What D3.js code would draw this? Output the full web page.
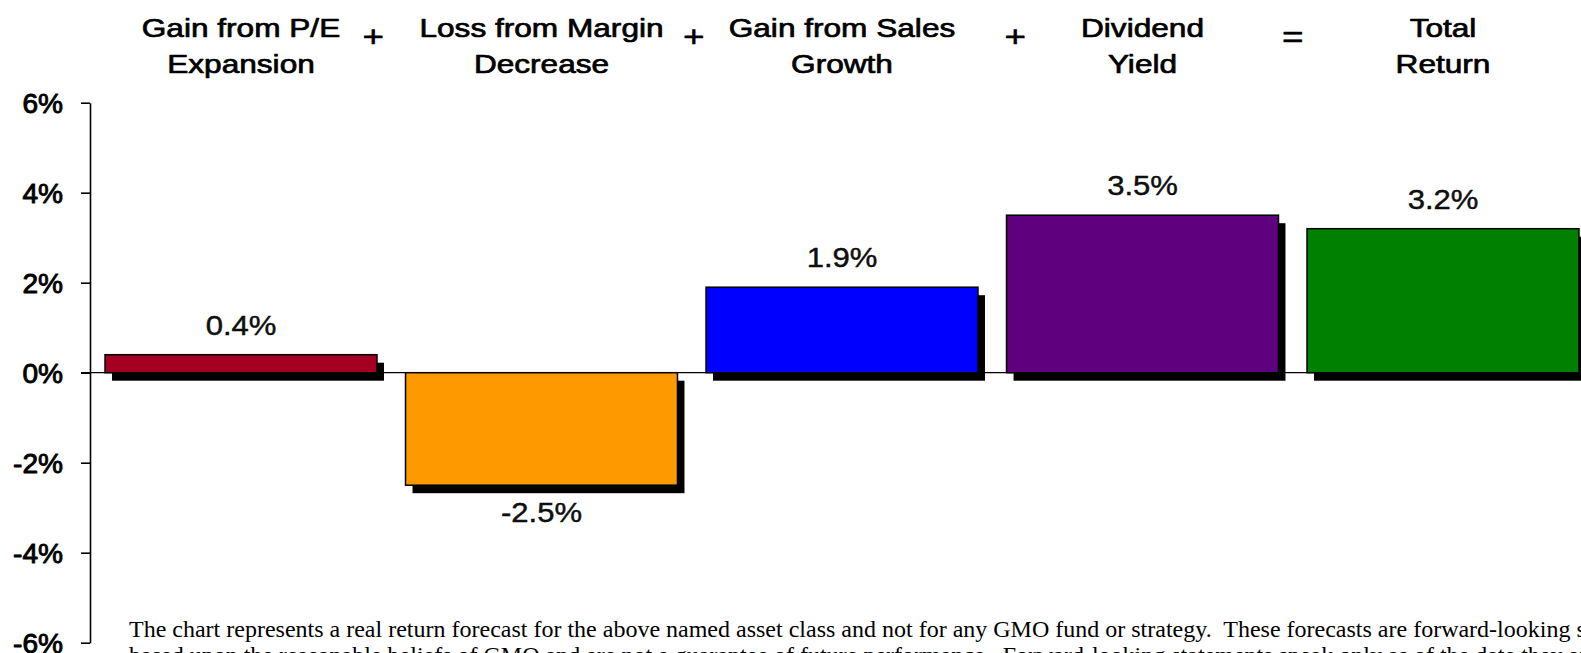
<!DOCTYPE html>
<html>
<head>
<meta charset="utf-8">
<script src="https://cdn.jsdelivr.net/npm/d3@7"></script>
<style>
  html, body { margin: 0; padding: 0; background: #fff; overflow: hidden; }
  svg { display: block; }
  .footnote { white-space: pre; }
</style>
</head>
<body>
<svg id="chart" width="1581" height="653"></svg>
<script>
// Return decomposition: components and the resulting total
const categories = ["pe", "margin", "sales", "dividend", "total"];
const headerLine1 = ["Gain from P/E", "Loss from Margin", "Gain from Sales", "Dividend", "Total"];
const headerLine2 = ["Expansion", "Decrease", "Growth", "Yield", "Return"];
const values = [0.4, -2.5, 1.9, 3.5, 3.2];
const valueLabels = ["0.4%", "-2.5%", "1.9%", "3.5%", "3.2%"];
const operators = ["+", "+", "+", "="];
const tickValues = [6, 4, 2, 0, -2, -4, -6];
const tickLabels = ["6%", "4%", "2%", "0%", "-2%", "-4%", "-6%"];
const barColors = ["#A50021", "#FF9900", "#0000FF", "#5F007F", "#008000"];
const footnoteLines = [
  "The chart represents a real return forecast for the above named asset class and not for any GMO fund or strategy.  These forecasts are forward-looking statements",
  "based upon the reasonable beliefs of GMO and are not a guarantee of future performance.  Forward-looking statements speak only as of the date they are made."
];

// Layout
const axisX = 90;
const shadowDx = 7, shadowDy = 8;
const opNudge = [-18, 2, 23, 0];
const sans = "'Liberation Sans', Arial, Helvetica, sans-serif";
const serif = "'Liberation Serif', 'Times New Roman', serif";

const svg = d3.select("#chart");

const x = d3.scaleBand()
  .domain(categories)
  .range([axisX, 1594])
  .paddingInner(0.095)
  .paddingOuter(0.05);

const y = d3.scaleLinear()
  .domain([-6, 6])
  .range([642.7, 102.7]);

const data = categories.map((c, i) => ({
  key: c, value: values[i], label: valueLabels[i], color: barColors[i],
  h1: headerLine1[i], h2: headerLine2[i]
}));

// Heavier sans text, like the original export
function heavy(sel, w) {
  return sel.attr("stroke", "#000").attr("stroke-width", w).attr("stroke-linejoin", "round");
}

// Y axis
const yAxis = d3.axisLeft(y)
  .tickValues(tickValues)
  .tickFormat((d, i) => tickLabels[i])
  .tickSize(9)
  .tickSizeOuter(0)
  .tickPadding(0);

const axisG = svg.append("g")
  .attr("transform", `translate(${axisX},0)`)
  .call(yAxis);
axisG.select(".domain").attr("stroke", "#000").attr("stroke-width", 1.6);
axisG.selectAll(".tick line").attr("stroke", "#000").attr("stroke-width", 1.6);
axisG.selectAll(".tick text").remove();
heavy(axisG.selectAll(".tick").append("g")
  .attr("transform", "translate(-27,10) scale(1.04,1)")
  .append("text")
  .attr("text-anchor", "end")
  .attr("font-family", sans)
  .attr("font-size", 27)
  .attr("fill", "#000")
  .text((d, i) => tickLabels[i]), 0.9);

// Bar shadows
svg.append("g").selectAll("rect")
  .data(data)
  .join("rect")
  .attr("x", d => x(d.key) + shadowDx)
  .attr("y", d => Math.min(y(d.value), y(0)) + shadowDy)
  .attr("width", x.bandwidth())
  .attr("height", d => Math.abs(y(d.value) - y(0)))
  .attr("fill", "#000");

// Zero line
svg.append("line")
  .attr("x1", axisX - 9)
  .attr("x2", 1581)
  .attr("y1", y(0))
  .attr("y2", y(0))
  .attr("stroke", "#000")
  .attr("stroke-width", 1.3);

// Bars
svg.append("g").selectAll("rect")
  .data(data)
  .join("rect")
  .attr("x", d => x(d.key))
  .attr("y", d => Math.min(y(d.value), y(0)))
  .attr("width", x.bandwidth())
  .attr("height", d => Math.abs(y(d.value) - y(0)))
  .attr("fill", d => d.color)
  .attr("stroke", "#000")
  .attr("stroke-width", 1.5);

// Value labels
heavy(svg.append("g").selectAll("g")
  .data(data)
  .join("g")
  .attr("transform", d => {
    const cx = x(d.key) + x.bandwidth() / 2;
    const ty = d.value >= 0 ? y(d.value) - 20 : y(d.value) + 37;
    return `translate(${cx},${ty}) scale(1.15,1)`;
  })
  .append("text")
  .attr("text-anchor", "middle")
  .attr("font-family", sans)
  .attr("font-size", 27)
  .attr("fill", "#111")
  .text(d => d.label), 0.4);

// Column headers
const headers = svg.append("g").selectAll("g")
  .data(data)
  .join("g")
  .attr("transform", d => `translate(${x(d.key) + x.bandwidth() / 2},0) scale(1.23,1)`);
heavy(headers.append("text")
  .attr("y", 36.7)
  .attr("text-anchor", "middle")
  .attr("font-family", sans)
  .attr("font-size", 25.7)
  .attr("fill", "#000")
  .text(d => d.h1), 0.7);
heavy(headers.append("text")
  .attr("y", 73.5)
  .attr("text-anchor", "middle")
  .attr("font-family", sans)
  .attr("font-size", 25.7)
  .attr("fill", "#000")
  .text(d => d.h2), 0.7);

// Operators between the headers
heavy(svg.append("g").selectAll("g")
  .data(operators)
  .join("g")
  .attr("transform", (d, i) => {
    const bx = x(categories[i]) + x.bandwidth() + (x.step() - x.bandwidth()) / 2 + opNudge[i];
    return `translate(${bx},47) scale(1.23,1)`;
  })
  .append("text")
  .attr("text-anchor", "middle")
  .attr("font-family", sans)
  .attr("font-size", 30)
  .attr("fill", "#000")
  .text(d => d), 0.5);

// Footnote
svg.append("g").selectAll("text")
  .data(footnoteLines)
  .join("text")
  .attr("class", "footnote")
  .attr("x", 129)
  .attr("y", (d, i) => 636.7 + i * 26)
  .attr("font-family", serif)
  .attr("font-size", 24)
  .attr("fill", "#000")
  .text(d => d);
</script>
</body>
</html>
